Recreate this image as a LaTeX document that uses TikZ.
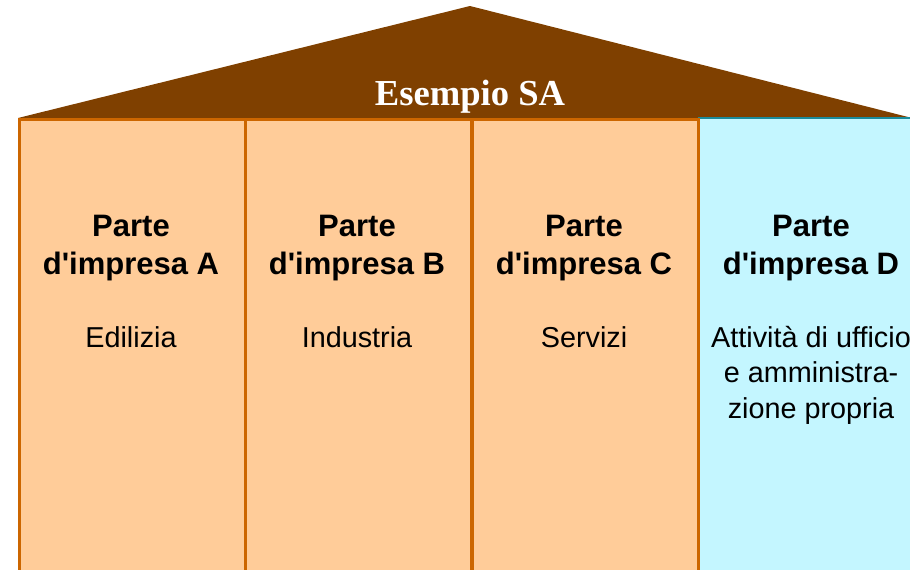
\documentclass[tikz,border=0pt]{standalone}
\usepackage{fontspec}
\setmainfont{Liberation Serif}
\setsansfont{Liberation Sans}
\usetikzlibrary{positioning}
\definecolor{roofbrown}{HTML}{7F4000}
\definecolor{wallfill}{HTML}{FFCC99}
\definecolor{wallline}{HTML}{CC6600}
\definecolor{officefill}{HTML}{C4F6FF}
\definecolor{officeline}{HTML}{1A8C9C}

\begin{document}
\begin{tikzpicture}[x=1pt,y=-1pt,
		pillar/.style={draw=wallline,line width=2.6pt,fill=wallfill,
			minimum width=226pt,minimum height=500pt,anchor=north west,inner sep=0pt},
		parttitle/.style={font=\sffamily\bfseries\fontsize{31}{38}\selectfont,
			align=center,anchor=north,inner sep=0pt},
		partdesc/.style={font=\sffamily\fontsize{28.8}{35.5}\selectfont,
			align=center,anchor=north,inner sep=0pt}]
	\useasboundingbox (0,0) rectangle (910,570);
	\clip (0,0) rectangle (910,570);

	% roof
	\fill[roofbrown] (18,118) -- (470,6) -- (912,118) -- cycle;
	\node[font=\bfseries\fontsize{36.6}{40}\selectfont,text=white,anchor=base] (firm) at (470,105) {Esempio SA};

	% pillars
	\node[pillar,draw=none,fill=officefill] (partD) at (698,118) {};
	\draw[officeline,line width=2.6pt] (partD.north west) -- (partD.north east);
	\node[pillar] (partA) at (18,118) {};
	\node[pillar] (partB) at (244,118) {};
	\node[pillar] (partC) at (471,118) {};

	\foreach \x/\l/\d in {131/A/Edilizia,357/B/Industria,584/C/Servizi}{
		\node[parttitle] (title\l) at (\x,215) {Parte\\d\textquotesingle impresa \l};
		\node[partdesc] (desc\l) at (\x,326) {\d};
	}
	\node[parttitle] (titleD) at (811,215) {Parte\\d\textquotesingle impresa D};
	\node[partdesc] (descD) at (811,326) {Attività di ufficio\\e amministra-\\zione propria};
\end{tikzpicture}
\end{document}
